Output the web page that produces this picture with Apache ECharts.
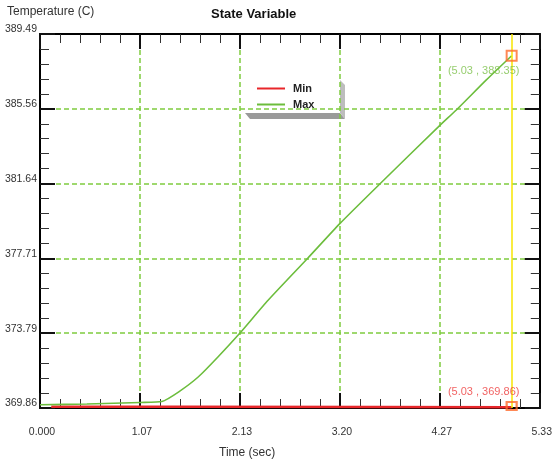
<!DOCTYPE html>
<html lang="en">
<head>
  <meta charset="UTF-8">
  <title>State Variable</title>
  <style>
    html, body { margin: 0; padding: 0; background: #fff; }
    #chart { width: 555px; height: 461px; }
  </style>
</head>
<body>
  <div id="chart"></div>
  <script src="https://cdn.jsdelivr.net/npm/echarts@6/dist/echarts.min.js"></script>
  <script>
    // axis ranges and tick labels
    var xMin = 0, xMax = 5.33, xStep = 1.066;
    var yMin = 369.86, yMax = 389.49, yStep = 3.926;
    var xLabels = ['0.000', '1.07', '2.13', '3.20', '4.27', '5.33'];
    var yLabels = ['369.86', '373.79', '377.71', '381.64', '385.56', '389.49'];

    // series values [time, temperature]
    var minData = [[0.12, 369.92], [1.5, 369.92], [3.6, 369.91], [5.03, 369.9]];
    var maxData = [
      [0, 370.03], [0.5, 370.07], [1.07, 370.15], [1.3, 370.2], [1.48, 370.71],
      [1.69, 371.5], [1.9, 372.55], [2.13, 373.78], [2.43, 375.5], [2.855, 377.72],
      [3.2, 379.55], [3.61, 381.55], [4.27, 384.72], [4.44, 385.5], [4.76, 387.08],
      [5.03, 388.35]
    ];

    // cursor readout
    var cursorTime = 5.03;
    var cursorMin = 369.86;
    var cursorMax = 388.35;

    var green = '#6cbd3c';
    var gridGreen = '#7fcc3f';
    var red = '#e8262a';
    var orange = '#ff6a2a';

    function frameAxis(kind, pos) {
      var isX = kind === 'x';
      return {
        type: 'value', position: pos,
        min: isX ? xMin : yMin, max: isX ? xMax : yMax, interval: isX ? xStep : yStep,
        axisLine: { show: true, onZero: false, lineStyle: { color: '#000', width: 2 } },
        axisTick: { show: true, inside: true, length: 15, lineStyle: { color: '#111', width: 2 } },
        minorTick: { show: true, splitNumber: 5, length: 9, lineStyle: { color: '#333', width: 1 } },
        splitLine: { show: false },
        axisLabel: { show: false }
      };
    }
    var dashed = {
      show: true, showMinLine: false, showMaxLine: false,
      lineStyle: { color: gridGreen, width: 1.5, type: [5, 3] }
    };

    var xBottom = frameAxis('x', 'bottom');
    xBottom.axisLabel = {
      show: true, margin: 19, color: '#333', fontSize: 10.5, fontFamily: 'Liberation Sans',
      showMinLabel: true, showMaxLabel: true, padding: [0, 0, 0, 4],
      formatter: function (v) { return xLabels[Math.round((v - xMin) / xStep)]; }
    };
    xBottom.splitLine = dashed;
    var xTop = frameAxis('x', 'top');

    var yLeft = frameAxis('y', 'left');
    yLeft.axisLabel = {
      show: true, margin: 3, color: '#333', fontSize: 10.5, fontFamily: 'Liberation Sans',
      showMinLabel: true, showMaxLabel: true, verticalAlign: 'bottom', lineHeight: 9,
      formatter: function (v) { return yLabels[Math.round((v - yMin) / yStep)]; }
    };
    yLeft.splitLine = dashed;
    var yRight = frameAxis('y', 'right');

    var chart = echarts.init(document.getElementById('chart'), null, { renderer: 'canvas' });
    chart.setOption({
      animation: false,
      backgroundColor: '#fff',
      textStyle: { fontFamily: 'Liberation Sans' },
      title: [
        { text: 'State Variable', left: 211, top: 8, padding: 0,
          textStyle: { fontSize: 13, fontWeight: 'bold', color: '#111' } },
        { text: 'Temperature (C)', left: 7, top: 6, padding: 0,
          textStyle: { fontSize: 12, fontWeight: 'normal', color: '#333' } },
        { text: 'Time (sec)', left: 219, top: 447, padding: 0,
          textStyle: { fontSize: 12, fontWeight: 'normal', color: '#333' } }
      ],
      grid: { left: 40, right: 11, top: 34, bottom: 53, containLabel: false },
      legend: {
        orient: 'vertical', left: 257, top: 83, padding: 0,
        itemWidth: 28, itemHeight: 2, itemGap: 5,
        icon: 'rect',
        textStyle: { fontSize: 11, fontWeight: 'bold', color: '#222', padding: [0, 0, 0, 3] },
        data: ['Min', 'Max']
      },
      graphic: [
        { type: 'polygon', shape: { points: [[245, 113], [340, 113], [345, 119], [250, 119]] },
          style: { fill: '#9a9a9a' } },
        { type: 'polygon', shape: { points: [[340, 80], [345, 85], [345, 119], [340, 113]] },
          style: { fill: '#bdbdbd' } }
      ],
      xAxis: [xBottom, xTop],
      yAxis: [yLeft, yRight],
      series: [
        {
          name: 'Min', type: 'line', data: minData, showSymbol: false, symbol: 'none',
          lineStyle: { color: red, width: 2.5 }, itemStyle: { color: red }, z: 3,
          markLine: {
            silent: true, symbol: 'none', label: { show: false },
            lineStyle: { color: '#f7e600', width: 1.5, type: 'solid' },
            data: [{ xAxis: cursorTime }]
          }
        },
        {
          name: 'Max', type: 'line', data: maxData, showSymbol: false, symbol: 'none', smooth: 0.2,
          lineStyle: { color: green, width: 1.6 }, itemStyle: { color: green }, z: 3
        },
        {
          name: 'cursorMax', type: 'scatter', symbol: 'rect', symbolSize: [10, 10], z: 5,
          data: [[cursorTime, cursorMax]],
          itemStyle: { color: 'rgba(0,0,0,0)', borderColor: orange, borderWidth: 2 },
          label: {
            show: true, position: 'inside', offset: [-28, 15], fontSize: 11, color: '#7cc04a',
            formatter: function (p) { return '(' + p.value[0].toFixed(2) + ' , ' + p.value[1].toFixed(2) + ')'; }
          }
        },
        {
          name: 'cursorMin', type: 'scatter', symbol: 'rect', symbolSize: [10, 8], z: 5,
          data: [[cursorTime, cursorMin]], symbolOffset: [0, -2],
          itemStyle: { color: 'rgba(0,0,0,0)', borderColor: orange, borderWidth: 2 },
          label: {
            show: true, position: 'inside', offset: [-28, -14], fontSize: 11, color: '#ee3b3b',
            formatter: function (p) { return '(' + p.value[0].toFixed(2) + ' , ' + p.value[1].toFixed(2) + ')'; }
          }
        }
      ]
    });
  </script>
</body>
</html>
